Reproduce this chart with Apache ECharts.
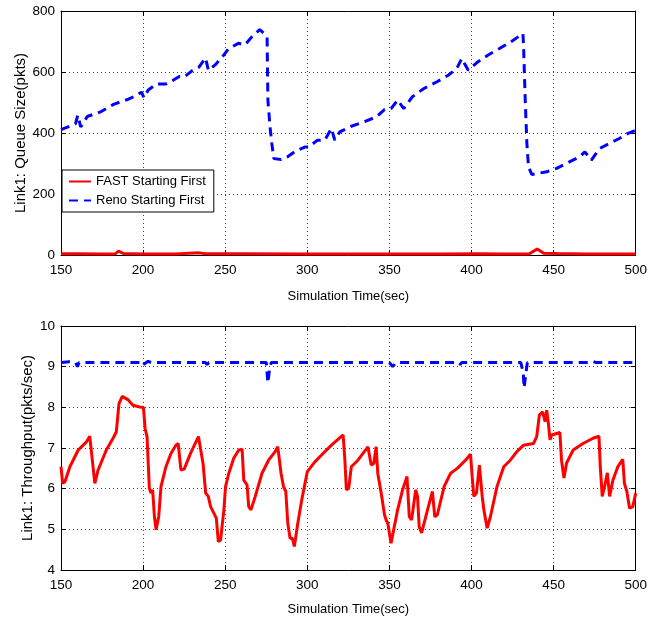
<!DOCTYPE html>
<html><head><meta charset="utf-8">
<script src="https://cdn.jsdelivr.net/npm/echarts@6/dist/echarts.min.js"></script>
<style>html,body{margin:0;padding:0;background:#fff}#c{width:650px;height:620px}</style>
</head><body><div id="c"></div>
<script>
// ---- Data ----
const seriesNames = ['FAST Starting First', 'Reno Starting First'];
const xTicks = [150, 200, 250, 300, 350, 400, 450, 500];
const queueTicks = [0, 200, 400, 600, 800];
const thrTicks = [4, 5, 6, 7, 8, 9, 10];

// Top: queue size (pkts)
const renoQueueTime = [150,158.8,160.2,162,166,174,182,190,196,199,200.5,203,208,214,218,222,225,229.5,234,238,239.8,244,248,252,258,262,266,271,274,275.5,276,277.3,278.4,279.6,284,288,293,298.4,301,306,310.7,314.7,316.7,319.8,326.8,334.9,342,347,351,355,358.7,364,371,379,386,391,394,398,403.8,409.9,417,424,431.3,431.7,432.7,433.7,434.7,436.7,439.7,445.8,451.8,459.9,465.9,469,473,478,484,490,495,500];
const renoQueuePkts = [411,430,458,420,454,469,494,509,523,534,516,540,561,561,572,585,583,603,616,646,605,624,648,676,694,689,714,739,725,714,507,420,365,316,313,322,341,354,354,376,377,415,377,404,422,437,453,477,480,508,480,519,546,568,590,611,644,606,633,655,677,699,726,682,508,366,289,264,267,273,284,306,322,338,311,349,366,382,398,409];
const fastQueueTime = [150,160,175,183,185,188,200,220,228,234,238,260,300,340,380,405,420,435,440,444,452,470,500];
const fastQueuePkts = [4,4,3,4,13,5,3,3,6,7,4,4,3,3,3,4,3,3,20,6,5,3,3];

// Bottom: throughput (pkts/sec)
const renoThrTime = [150,155,159,160,161,170,185,199,200,201,203,205,230,238,239,240,250,275,276,277,278,300,330,350,352,354,380,392,393,394,420,430,431.5,432,433,434,440,455,460,461,462,472,474,476,490,500];
const renoThrVal = [9.1,9.12,9.1,9.0,9.1,9.1,9.1,9.1,9.03,9.08,9.13,9.1,9.1,9.1,9.05,9.1,9.1,9.1,8.6,8.95,9.1,9.1,9.1,9.1,9.0,9.1,9.1,9.1,9.05,9.1,9.1,9.1,8.85,8.48,8.8,9.1,9.1,9.1,9.1,9.14,9.1,9.1,9.13,9.1,9.1,9.1];
const fastThrTime = [150,151,152.4,155.4,160.5,165.5,167.5,168.5,170.6,172.6,177.6,181.7,183.7,185.3,187.3,190.7,193.8,198.8,200.2,201.2,202.4,203.8,204.8,205.8,206.9,207.9,209.5,210.9,213.9,217,220,221.4,223,225,229,233.7,234.7,236.5,238.1,239.7,241.1,243.1,244.6,245.8,247.2,249.2,250.2,252.2,255.2,258.3,260.3,261.3,263.3,264.3,265.7,268.3,272.4,276.4,280.4,282,283,284,285.5,286.9,288.1,289.5,290.9,292.1,294.2,296.6,300,304.6,309.7,314.7,321.8,322.8,323.8,325.2,326.8,330.8,336.9,337.9,338.9,340.5,341.9,342.9,345,347,348,349,351,352,355,358,360.7,362.1,363.5,366,367.1,368.1,369.6,373.2,376.2,377.6,379.2,383.3,387.3,391.3,396.4,399.4,400.4,401.4,403,404.8,406.5,407.5,409.5,411.5,415.5,419.6,423.6,427.6,431.7,437.7,439.7,441.3,443.3,444.8,445.8,446.8,447.8,448.8,449.8,453.8,454.8,456.3,457.9,461.9,467.9,474,477.6,478.4,479.6,481,482.7,484.1,486.1,489.1,492.1,493.1,494.6,496.2,498.2,500];
const fastThrVal = [6.54,6.13,6.17,6.54,6.95,7.15,7.29,7.28,6.13,6.46,6.95,7.24,7.40,8.09,8.27,8.19,8.05,8.0,8.0,7.48,7.28,6.01,5.89,5.97,5.31,4.99,5.31,6.05,6.54,6.87,7.07,7.11,6.46,6.48,6.88,7.28,7.24,6.62,5.89,5.81,5.56,5.40,5.27,4.70,4.74,5.48,6.05,6.38,6.75,6.95,6.97,6.21,6.09,5.56,5.48,5.81,6.38,6.70,6.91,7.03,6.99,6.38,6.05,5.93,5.15,4.78,4.78,4.58,5.15,5.72,6.42,6.66,6.87,7.07,7.32,6.75,5.97,6.01,6.54,6.70,7.03,7.03,6.58,6.62,7.03,6.38,5.89,5.36,5.23,5.15,4.66,4.70,5.48,5.97,6.30,5.31,5.23,5.97,5.81,5.07,4.91,5.48,5.93,5.31,5.36,6.05,6.38,6.50,6.70,6.85,6.30,5.81,5.89,6.58,5.81,5.48,5.03,5.31,6.05,6.54,6.70,6.91,7.07,7.11,7.28,7.81,7.89,7.65,7.93,7.60,7.20,7.32,7.36,7.38,6.70,6.26,6.63,6.95,7.11,7.24,7.29,6.54,5.81,6.05,6.39,5.81,6.21,6.54,6.72,6.13,5.93,5.52,5.56,5.89];

// ---- Chart ----
const zip = (a, b) => a.map((v, i) => [v, b[i]]);
const FONT = "'Liberation Sans', Arial, sans-serif";
const RED = '#ff0000', BLUE = '#0000ff';
const dash = [9, 6];

function xAx(grid, gap) {
  return {
    type: 'value', gridIndex: grid, min: xTicks[0], max: xTicks[xTicks.length - 1], interval: 50,
    name: 'Simulation Time(sec)', nameLocation: 'middle', nameGap: gap, nameMoveOverlap: false,
    nameTextStyle: { fontFamily: FONT, fontSize: 13, color: '#000', verticalAlign: 'top' },
    axisLine: { show: true, onZero: false, lineStyle: { color: '#000', width: 1 } },
    axisTick: { show: true, inside: true, length: 5, lineStyle: { color: '#000' } },
    axisLabel: { fontFamily: FONT, fontSize: 13.5, color: '#000', margin: 8 },
    splitLine: { show: true, lineStyle: { color: '#444', type: [1, 3], width: 1 } }
  };
}
function xTop(grid) {
  return {
    type: 'value', gridIndex: grid, position: 'top', min: xTicks[0], max: xTicks[xTicks.length - 1], interval: 50,
    axisLine: { show: true, onZero: false, lineStyle: { color: '#000' } },
    axisTick: { show: true, inside: true, length: 5, lineStyle: { color: '#000' } },
    axisLabel: { show: false }, splitLine: { show: false }
  };
}
function yAx(grid, ticks, name, gap) {
  return {
    type: 'value', gridIndex: grid, min: ticks[0], max: ticks[ticks.length - 1], interval: ticks[1] - ticks[0],
    name: name, nameLocation: 'middle', nameGap: gap, nameMoveOverlap: false,
    nameTextStyle: { fontFamily: FONT, fontSize: 15, color: '#000' },
    axisLine: { show: true, onZero: false, lineStyle: { color: '#000', width: 1 } },
    axisTick: { show: true, inside: true, length: 5, lineStyle: { color: '#000' } },
    axisLabel: { fontFamily: FONT, fontSize: 13.5, color: '#000', margin: 6 },
    splitLine: { show: true, lineStyle: { color: '#444', type: [1, 3], width: 1 } }
  };
}
function yRight(grid, ticks) {
  return {
    type: 'value', gridIndex: grid, position: 'right', min: ticks[0], max: ticks[ticks.length - 1], interval: ticks[1] - ticks[0],
    axisLine: { show: true, onZero: false, lineStyle: { color: '#000' } },
    axisTick: { show: true, inside: true, length: 5, lineStyle: { color: '#000' } },
    axisLabel: { show: false }, splitLine: { show: false }
  };
}

const chart = echarts.init(document.getElementById('c'), null, { renderer: 'canvas' });
chart.setOption({
  animation: false,
  backgroundColor: '#fff',
  grid: [
    { left: 61, top: 11, width: 579, height: 244 },
    { left: 61, top: 326, width: 579, height: 244 }
  ],
  xAxis: [xAx(0, 35), xAx(1, 33), xTop(0), xTop(1)],
  yAxis: [
    yAx(0, queueTicks, 'Link1: Queue Size(pkts)', 33),
    yAx(1, thrTicks, 'Link1: Throughput(pkts/sec)', 26),
    yRight(0, queueTicks), yRight(1, thrTicks)
  ],
  legend: {
    data: seriesNames, orient: 'vertical', left: 62, top: 170,
    padding: [5, 8, 5, 6], itemGap: 6, itemWidth: 22, itemHeight: 14,
    borderColor: '#000', borderWidth: 1, backgroundColor: '#fff',
    itemStyle: { color: 'rgba(0,0,0,0)', borderWidth: 0, opacity: 0 },
    textStyle: { fontFamily: FONT, fontSize: 13, color: '#000' }
  },
  series: [
    { name: seriesNames[1], type: 'line', xAxisIndex: 0, yAxisIndex: 0, symbol: 'none',
      data: zip(renoQueueTime, renoQueuePkts), lineStyle: { color: BLUE, width: 3, type: dash }, itemStyle: { color: BLUE } },
    { name: seriesNames[0], type: 'line', xAxisIndex: 0, yAxisIndex: 0, symbol: 'none',
      data: zip(fastQueueTime, fastQueuePkts), lineStyle: { color: RED, width: 3 }, itemStyle: { color: RED } },
    { name: seriesNames[1], type: 'line', xAxisIndex: 1, yAxisIndex: 1, symbol: 'none',
      data: zip(renoThrTime, renoThrVal), lineStyle: { color: BLUE, width: 3, type: dash }, itemStyle: { color: BLUE } },
    { name: seriesNames[0], type: 'line', xAxisIndex: 1, yAxisIndex: 1, symbol: 'none',
      data: zip(fastThrTime, fastThrVal), lineStyle: { color: RED, width: 3 }, itemStyle: { color: RED } }
  ]
});
</script></body></html>
